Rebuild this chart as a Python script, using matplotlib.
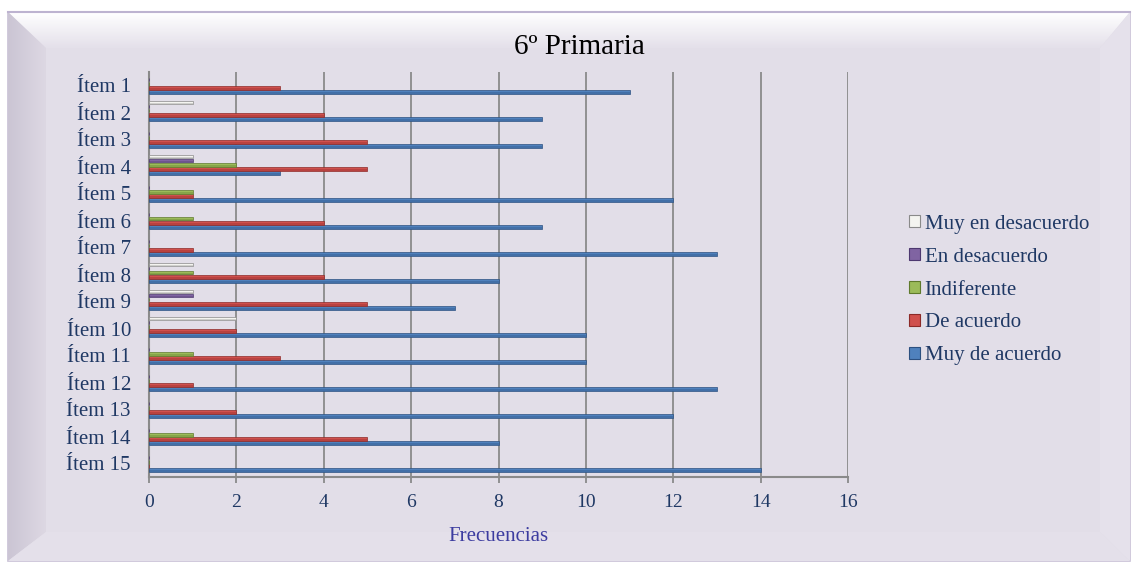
import numpy as np
import matplotlib.pyplot as plt
from matplotlib.colors import LinearSegmentedColormap
from matplotlib.patches import Polygon, Patch

plt.rcParams['font.family'] = ['Liberation Serif', 'DejaVu Serif']

items = ['Ítem %d' % i for i in range(1, 16)]
muy_de_acuerdo = [11, 9, 9, 3, 12, 9, 13, 8, 7, 10, 10, 13, 12, 8, 14]
de_acuerdo = [3, 4, 5, 5, 1, 4, 1, 4, 5, 2, 3, 1, 2, 5, 0]
indiferente = [0, 0, 0, 2, 1, 1, 0, 1, 0, 0, 1, 0, 0, 1, 0]
en_desacuerdo = [0, 0, 0, 1, 0, 0, 0, 0, 1, 0, 0, 0, 0, 0, 0]
muy_en_desacuerdo = [0, 1, 0, 1, 0, 0, 0, 1, 1, 2, 0, 0, 0, 0, 0]

series = [
    ('Muy de acuerdo', muy_de_acuerdo, '#4f81bd', '#2c5080'),
    ('De acuerdo', de_acuerdo, '#d0504d', '#8c2a28'),
    ('Indiferente', indiferente, '#9bbb59', '#5f7a2c'),
    ('En desacuerdo', en_desacuerdo, '#8064a2', '#4d3870'),
    ('Muy en desacuerdo', muy_en_desacuerdo, '#f4f4f0', '#8a8a8a'),
]

W, H = 1135, 565
fig = plt.figure(figsize=(W / 100, H / 100), dpi=100)
fig.patch.set_facecolor('white')

# beveled frame drawn in pixel coordinates
bg = fig.add_axes([0, 0, 1, 1])
bg.set_xlim(0, W)
bg.set_ylim(H, 0)
bg.axis('off')
x0, y0, x1, y1 = 8, 12, 1130, 561
ix0, iy0, ix1, iy1 = 46, 48, 1100, 532
bg.add_patch(Polygon([(x0, y0), (x1, y0), (x1, y1), (x0, y1)], closed=True,
                     facecolor='#e2dee8', edgecolor='#c8c0d6', lw=1.2))
grad = np.linspace(0, 1, 64).reshape(-1, 1)
top = Polygon([(x0, y0), (x1, y0), (ix1, iy0), (ix0, iy0)], closed=True,
              facecolor='none', edgecolor='none')
bg.add_patch(top)
im = bg.imshow(grad, extent=(x0, x1, iy0, y0),
               cmap=LinearSegmentedColormap.from_list('tb', ['#ffffff', '#e4e0ea']),
               aspect='auto', zorder=1)
im.set_clip_path(top)
left = Polygon([(x0, y0), (ix0, iy0), (ix0, iy1), (x0, y1)], closed=True,
               facecolor='none', edgecolor='none')
bg.add_patch(left)
im2 = bg.imshow(grad.T, extent=(x0, ix0, y1, y0),
                cmap=LinearSegmentedColormap.from_list('lb', ['#cbc5d4', '#ddd8e3']),
                aspect='auto', zorder=1)
im2.set_clip_path(left)
bg.add_patch(Polygon([(x1, y0), (x1, y1), (ix1, iy1), (ix1, iy0)], closed=True,
                     facecolor='#e5e1eb', edgecolor='none', zorder=1))
bg.add_patch(Polygon([(x0, y1), (x1, y1), (ix1, iy1), (ix0, iy1)], closed=True,
                     facecolor='#e4e0ea', edgecolor='none', zorder=1))
bg.plot([x0, x1], [y0, y0], color='#bdb3d0', lw=1.5, zorder=2)

ax = fig.add_axes([149 / W, 1 - 477 / H, (848 - 149) / W, (477 - 72) / H])
ax.set_facecolor('none')

y = np.arange(len(items))
step = 0.15
bar_h = 0.14
offsets = [2 * step, step, 0, -step, -2 * step]
for (label, vals, col, dark), off in zip(series, offsets):
    pos = y + off - 0.07
    ax.barh(pos, vals, height=bar_h, color=col, edgecolor=dark, linewidth=0.5, zorder=3)
    ax.barh(pos + bar_h * 0.25, vals, height=bar_h * 0.5, color=dark, alpha=0.35,
            linewidth=0, zorder=4)

ax.set_xlim(0, 16)
ax.set_ylim(len(items) - 0.5, -0.5)
ax.set_xticks(range(0, 17, 2))
ax.set_yticks(y)
ax.set_yticklabels(items)
ax.grid(axis='x', color='#8a8a8a', lw=1.3, zorder=0)
for s in ['top', 'right']:
    ax.spines[s].set_visible(False)
for s in ['left', 'bottom']:
    ax.spines[s].set_color('#8a8a8a')
    ax.spines[s].set_linewidth(1.5)
ax.tick_params(axis='y', length=0, pad=13, labelsize=15, labelcolor='#1f3864')
ax.tick_params(axis='x', length=4, width=1.3, color='#8a8a8a', pad=8,
               labelsize=14, labelcolor='#1f3864')
ax.set_xlabel('Frecuencias', fontsize=15, color='#3c3ca0', labelpad=12)

fig.text(579 / W, 1 - 47 / H, '6º Primaria', ha='center', va='center',
         fontsize=21, color='black')

handles = [Patch(facecolor=c, edgecolor=d, lw=0.8) for _, _, c, d in series[::-1]]
labels = [s[0] for s in series[::-1]]
fig.legend(handles, labels, loc='center left', bbox_to_anchor=(909 / W, 1 - 290 / H),
           frameon=False, fontsize=15, handlelength=0.55, handleheight=0.55,
           handletextpad=0.2, labelspacing=0.67, borderpad=0, borderaxespad=0,
           labelcolor='#1f3864')

fig.savefig('out.png', dpi=100)
